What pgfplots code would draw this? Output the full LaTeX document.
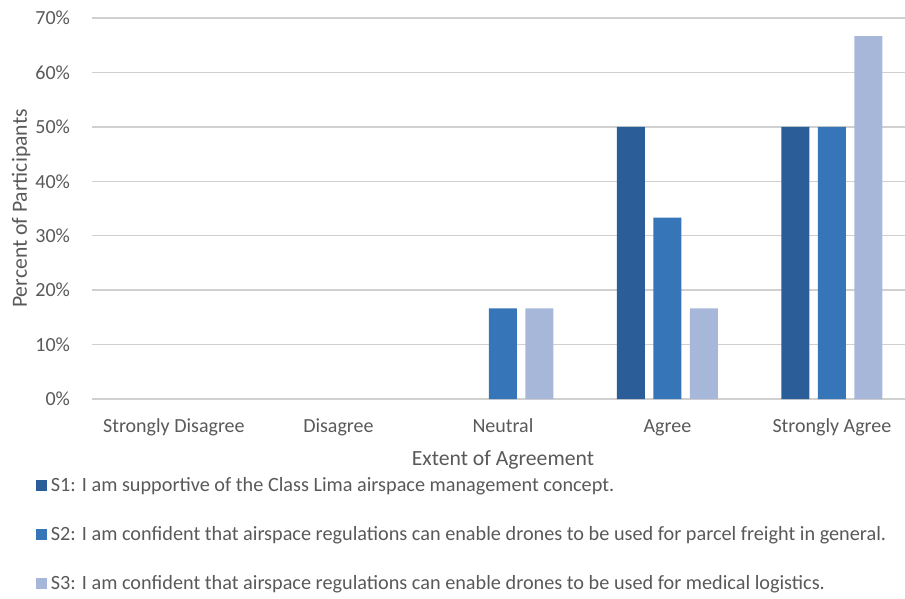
\documentclass[border=0pt]{standalone}
\usepackage{pgfplots}
\pgfplotsset{compat=1.18}
\usepackage{fontspec}
\setmainfont{Carlito}
\definecolor{sa}{HTML}{2B5E98}
\definecolor{sb}{HTML}{3775B9}
\definecolor{sc}{HTML}{A7B7D9}
\definecolor{txt}{HTML}{595959}
\definecolor{grd}{HTML}{D0D0D0}
\begin{document}
\begin{tikzpicture}[x=1pt,y=1pt]
\begin{axis}[
  name=ax,
  scale only axis,
  width=493.5pt, height=228.6pt,
  xmin=-0.5, xmax=4.5,
  ymin=0, ymax=70,
  xtick={0,1,2,3,4},
  xticklabels={Strongly Disagree,Disagree,Neutral,Agree,Strongly Agree},
  ytick={0,10,...,70},
  yticklabel={\pgfmathprintnumber{\tick}\%},
  /pgf/number format/assume math mode=true,
  ymajorgrids, grid style={grd, line width=0.8pt},
  axis line style={draw=none},
  major tick length=0pt,
  tick label style={font=\fontsize{12}{14}\selectfont, text=txt},
  xlabel={Extent of Agreement},
  ylabel={Percent of Participants},
  label style={font=\fontsize{13}{15}\selectfont, text=txt},
  xlabel style={yshift=-2.7pt},
  ylabel style={yshift=-3.8pt},
  yticklabel style={xshift=-9.5pt},
  xticklabel style={yshift=-8.7pt, text height=1.6ex, text depth=0.3ex},
  legend style={at={([xshift=-36.3pt,yshift=-43pt]axis description cs:0,0)}, anchor=north west,
    draw=none, fill=none, font=\fontsize{12.15}{14}\selectfont, text=txt, row sep=15.3pt,
    /tikz/every even column/.append style={column sep=6.3pt}},
  legend cell align=left,
  legend image code/.code={\fill[#1] (0pt,-3.3pt) rectangle (6.6pt,3.3pt);},
  clip=false,
]
% zero-valued bars (Strongly Disagree, Disagree, and S1 Neutral) are invisible
\addplot[ybar, bar width=0.170, bar shift=-0.222, fill=sa, draw=none] coordinates {(3,50) (4,50)};
\addlegendentry{S1: I am supportive of the Class Lima airspace management concept.}
\addplot[ybar, bar width=0.170, bar shift=0, fill=sb, draw=none] coordinates {(2,16.67) (3,33.33) (4,50)};
\addlegendentry{S2: I am confident that airspace regulations can enable drones to be used for parcel freight in general.}
\addplot[ybar, bar width=0.170, bar shift=0.222, fill=sc, draw=none] coordinates {(2,16.67) (3,16.67) (4,66.67)};
\addlegendentry{S3: I am confident that airspace regulations can enable drones to be used for medical logistics.}
\end{axis}
\pgfresetboundingbox
\path[use as bounding box] ([xshift=-55pt,yshift=10.8pt]ax.north west) rectangle ([xshift=488pt,yshift=-119.4pt]ax.south west);
\end{tikzpicture}
\end{document}
